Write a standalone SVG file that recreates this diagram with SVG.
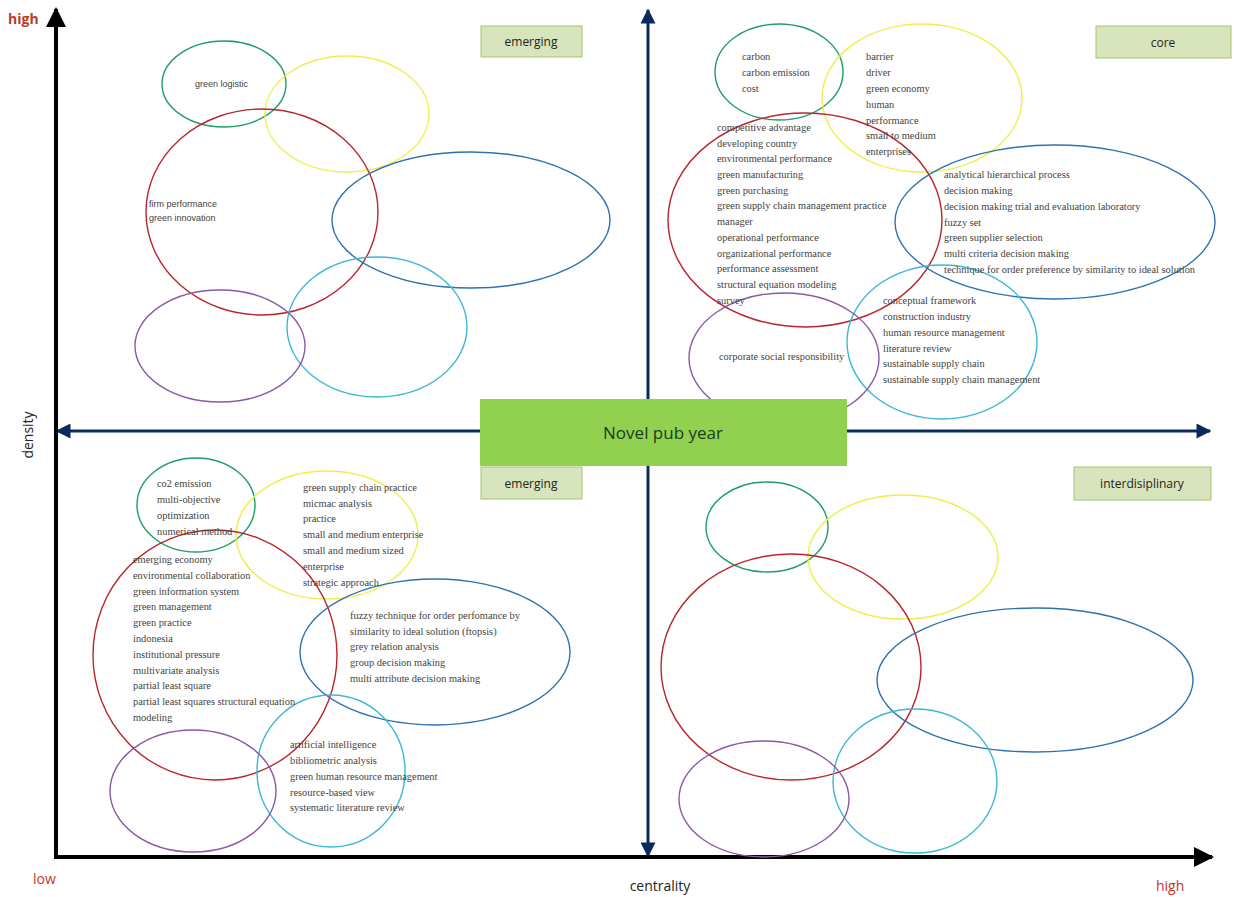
<svg xmlns="http://www.w3.org/2000/svg" width="1234" height="897" viewBox="0 0 1234 897">
<style>
.e{fill:none;stroke-width:1.4}
.g{stroke:#1f9e63}.y{stroke:#f0ee4a}.r{stroke:#b8262e}.b{stroke:#2f72b0}.c{stroke:#3bb8d6}.p{stroke:#8a5aa6}
.t{font-family:"Liberation Serif",serif;font-size:10.4px;fill:#3f3f3f}
.s{font-family:"Liberation Sans",sans-serif;font-size:9px;fill:#3f3f3f}
.lb rect{fill:#d8e4bc;stroke:#a9c373;stroke-width:1}
.lb text{font-family:"Open Sans","Liberation Sans",sans-serif;font-size:12px;fill:#222;text-anchor:middle}
.ax{font-family:"Open Sans","Liberation Sans",sans-serif;font-size:14px;fill:#222}
.red{font-family:"Open Sans","Liberation Sans",sans-serif;font-size:14px;fill:#c0392b}
</style>
<defs>
<marker id="na" viewBox="0 0 10 10" refX="9" refY="5" markerUnits="userSpaceOnUse" markerWidth="17" markerHeight="15" orient="auto-start-reverse"><path d="M0,0 L10,5 L0,10 z" fill="#0b2a5c"/></marker>
<marker id="ba" viewBox="0 0 10 10" refX="9" refY="5" markerUnits="userSpaceOnUse" markerWidth="24" markerHeight="20" orient="auto-start-reverse"><path d="M0,0 L10,5 L0,10 z" fill="#000"/></marker>
</defs>
<rect width="1234" height="897" fill="#fff"/>
<g id="connectors">
<line x1="648" y1="856" x2="648" y2="10" stroke="#0b2a5c" stroke-width="3" marker-start="url(#na)" marker-end="url(#na)"/>
<line x1="57" y1="431" x2="1210" y2="431" stroke="#0b2a5c" stroke-width="3" marker-start="url(#na)" marker-end="url(#na)"/>
<line x1="56" y1="859" x2="56" y2="9" stroke="#000" stroke-width="4" marker-end="url(#ba)"/>
<line x1="54" y1="857" x2="1212" y2="857" stroke="#000" stroke-width="4" marker-end="url(#ba)"/>
</g>
<g id="axis-labels">
<text class="red" x="8" y="24" font-weight="bold">high</text>
<text class="red" x="33" y="884" font-size="13">low</text>
<text class="red" x="1156" y="891">high</text>
<text class="ax" x="660" y="891" text-anchor="middle">centrality</text>
<text class="ax" transform="translate(33,435) rotate(-90)" text-anchor="middle">density</text>
</g>
<g id="q-top-left">
<ellipse class="e g" cx="224" cy="84" rx="62" ry="43"/>
<ellipse class="e y" cx="347" cy="114" rx="82" ry="58"/>
<ellipse class="e r" cx="262" cy="212" rx="116" ry="103"/>
<ellipse class="e b" cx="471" cy="220" rx="139" ry="68"/>
<ellipse class="e c" cx="377" cy="327" rx="90" ry="70"/>
<ellipse class="e p" cx="220" cy="346" rx="85" ry="56"/>
<text class="s" x="195" y="87">green logistic</text>
<text class="s" x="149" y="207">firm performance</text>
<text class="s" x="149" y="221">green innovation</text>
</g>
<g id="q-top-right">
<ellipse class="e g" cx="779" cy="72" rx="64" ry="48"/>
<ellipse class="e y" cx="922" cy="98" rx="100" ry="74"/>
<ellipse class="e r" cx="805" cy="220" rx="137" ry="107"/>
<ellipse class="e b" cx="1055" cy="222" rx="160" ry="77"/>
<ellipse class="e c" cx="942" cy="342" rx="95" ry="77"/>
<ellipse class="e p" cx="784" cy="358" rx="95" ry="65"/>
<text class="t" x="742" y="60">carbon</text>
<text class="t" x="742" y="76">carbon emission</text>
<text class="t" x="742" y="92">cost</text>
<text class="t" x="866" y="60">barrier</text>
<text class="t" x="866" y="76">driver</text>
<text class="t" x="866" y="92">green economy</text>
<text class="t" x="866" y="108">human</text>
<text class="t" x="866" y="124">performance</text>
<text class="t" x="866" y="139">small to medium</text>
<text class="t" x="866" y="155">enterprises</text>
<text class="t" x="717" y="131">competitive advantage</text>
<text class="t" x="717" y="147">developing country</text>
<text class="t" x="717" y="162">environmental performance</text>
<text class="t" x="717" y="178">green manufacturing</text>
<text class="t" x="717" y="194">green purchasing</text>
<text class="t" x="717" y="209">green supply chain management practice</text>
<text class="t" x="717" y="225">manager</text>
<text class="t" x="717" y="241">operational performance</text>
<text class="t" x="717" y="257">organizational performance</text>
<text class="t" x="717" y="272">performance assessment</text>
<text class="t" x="717" y="288">structural equation modeling</text>
<text class="t" x="717" y="304">survey</text>
<text class="t" x="944" y="178">analytical hierarchical process</text>
<text class="t" x="944" y="194">decision making</text>
<text class="t" x="944" y="210">decision making trial and evaluation laboratory</text>
<text class="t" x="944" y="226">fuzzy set</text>
<text class="t" x="944" y="241">green supplier selection</text>
<text class="t" x="944" y="257">multi criteria decision making</text>
<text class="t" x="944" y="273">technique for order preference by similarity to ideal solution</text>
<text class="t" x="883" y="304">conceptual framework</text>
<text class="t" x="883" y="320">construction industry</text>
<text class="t" x="883" y="336">human resource management</text>
<text class="t" x="883" y="352">literature review</text>
<text class="t" x="883" y="367">sustainable supply chain</text>
<text class="t" x="883" y="383">sustainable supply chain management</text>
<text class="t" x="719" y="360">corporate social responsibility</text>
</g>
<g id="q-bottom-left">
<ellipse class="e g" cx="196" cy="505" rx="59" ry="47"/>
<ellipse class="e y" cx="327" cy="535" rx="91" ry="64"/>
<ellipse class="e r" cx="215" cy="655" rx="122" ry="125"/>
<ellipse class="e b" cx="435" cy="652" rx="135" ry="73"/>
<ellipse class="e c" cx="331" cy="771" rx="74" ry="76"/>
<ellipse class="e p" cx="193" cy="791" rx="83" ry="61"/>
<text class="t" x="157" y="487">co2 emission</text>
<text class="t" x="157" y="503">multi-objective</text>
<text class="t" x="157" y="519">optimization</text>
<text class="t" x="157" y="535">numerical method</text>
<text class="t" x="303" y="491">green supply chain practice</text>
<text class="t" x="303" y="507">micmac analysis</text>
<text class="t" x="303" y="522">practice</text>
<text class="t" x="303" y="538">small and medium enterprise</text>
<text class="t" x="303" y="554">small and medium sized</text>
<text class="t" x="303" y="570">enterprise</text>
<text class="t" x="303" y="586">strategic approach</text>
<text class="t" x="133" y="563">emerging economy</text>
<text class="t" x="133" y="579">environmental collaboration</text>
<text class="t" x="133" y="595">green information system</text>
<text class="t" x="133" y="610">green management</text>
<text class="t" x="133" y="626">green practice</text>
<text class="t" x="133" y="642">indonesia</text>
<text class="t" x="133" y="658">institutional pressure</text>
<text class="t" x="133" y="674">multivariate analysis</text>
<text class="t" x="133" y="689">partial least square</text>
<text class="t" x="133" y="705">partial least squares structural equation</text>
<text class="t" x="133" y="721">modeling</text>
<text class="t" x="350" y="619">fuzzy technique for order perfomance by</text>
<text class="t" x="350" y="635">similarity to ideal solution (ftopsis)</text>
<text class="t" x="350" y="650">grey relation analysis</text>
<text class="t" x="350" y="666">group decision making</text>
<text class="t" x="350" y="682">multi attribute decision making</text>
<text class="t" x="290" y="748">artificial intelligence</text>
<text class="t" x="290" y="764">bibliometric analysis</text>
<text class="t" x="290" y="780">green human resource management</text>
<text class="t" x="290" y="796">resource-based view</text>
<text class="t" x="290" y="811">systematic literature review</text>
</g>
<g id="q-bottom-right">
<ellipse class="e g" cx="767" cy="527" rx="61" ry="45"/>
<ellipse class="e y" cx="903" cy="557" rx="95" ry="62"/>
<ellipse class="e r" cx="791" cy="667" rx="130" ry="113"/>
<ellipse class="e b" cx="1035" cy="680" rx="158" ry="72"/>
<ellipse class="e c" cx="915" cy="781" rx="82" ry="72"/>
<ellipse class="e p" cx="764" cy="799" rx="85" ry="58"/>
</g>
<g id="center-box">
<rect x="480" y="399" width="367" height="67" fill="#92d050"/>
<text x="663" y="439" text-anchor="middle" font-family="'Open Sans','Liberation Sans',sans-serif" font-size="17" fill="#1d3b1d">Novel pub year</text>
</g>
<g id="label-emerging-top" class="lb"><rect x="481" y="26" width="101" height="31"/><text x="531" y="46">emerging</text></g>
<g id="label-core" class="lb"><rect x="1096" y="26" width="135" height="32"/><text x="1163" y="47">core</text></g>
<g id="label-emerging-bottom" class="lb"><rect x="481" y="467" width="101" height="32"/><text x="531" y="488">emerging</text></g>
<g id="label-interdisciplinary" class="lb"><rect x="1074" y="467" width="137" height="33"/><text x="1142" y="488">interdisiplinary</text></g>
</svg>
